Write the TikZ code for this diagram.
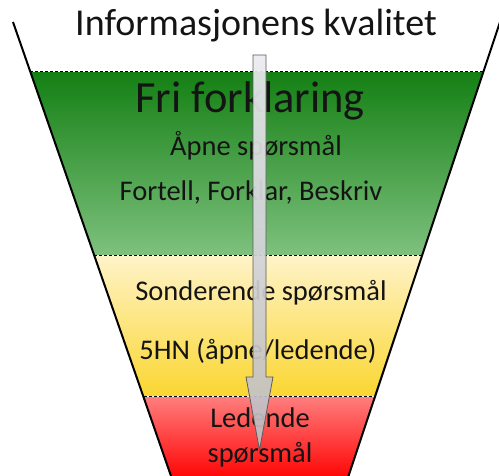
\documentclass[tikz,border=0pt]{standalone}
\usepackage{fontspec}
\setmainfont{Carlito}
\definecolor{greentop}{RGB}{20,128,20}
\definecolor{greenbot}{RGB}{126,193,126}
\definecolor{yellowtop}{RGB}{255,243,200}
\definecolor{yellowbot}{RGB}{250,214,48}
\definecolor{redtop}{RGB}{255,125,125}
\definecolor{redbot}{RGB}{255,8,8}
\definecolor{arrowtop}{RGB}{235,235,240}
\definecolor{arrowbot}{RGB}{188,188,194}
\definecolor{arrowline}{RGB}{90,90,90}
\definecolor{ink}{RGB}{20,20,20}
\begin{document}
\begin{tikzpicture}[x=1pt,y=-1pt,
  lbl/.style={anchor=base,inner sep=0pt,text=ink,font=\fontsize{28.5}{30}\selectfont},
  sep/.style={line width=1pt,draw=black,dash pattern=on 3pt off 2pt},
  sepbg/.style={line width=1pt,draw=white},
  rim/.style={line width=2pt,draw=black}]
\useasboundingbox (0,0) rectangle (499,476);
% funnel rim
\coordinate (TL) at (13,22);
\coordinate (BL) at (171,476);
\coordinate (TR) at (500,22);
\coordinate (BR) at (348.5,476);
% bands
\shade[top color=greentop,bottom color=greenbot]
  (30.4,72) -- (483.3,72) -- (421.9,256) -- (94.4,256) -- cycle;
\shade[top color=yellowtop,bottom color=yellowbot]
  (94.4,256) -- (421.9,256) -- (374.9,397) -- (143.5,397) -- cycle;
\shade[top color=redtop,bottom color=redbot]
  (143.5,397) -- (374.9,397) -- (348.5,476) -- (171,476) -- cycle;
% band separators
\foreach \y/\l/\r in {72/30.4/483.3,256/94.4/421.9,397/143.5/374.9}{
  \draw[sepbg] (\l,\y) -- (\r,\y);
  \draw[sep] (\l,\y) -- (\r,\y);
}
\draw[rim] (TL) -- (BL);
\draw[rim] (TR) -- (BR);
% texts
\node[anchor=base,inner sep=0pt,text=ink,font=\fontsize{38}{40}\selectfont] (title) at (256,36) {Informasjonens kvalitet};
\node[anchor=base,inner sep=0pt,text=ink,font=\fontsize{44.5}{48}\selectfont] (fri) at (250,113) {Fri forklaring};
\node[lbl] (apne) at (256,156) {Åpne spørsmål};
\node[lbl] (fort) at (251,201) {Fortell, Forklar, Beskriv};
\node[lbl] (sond) at (261,301) {Sonderende spørsmål};
\node[lbl] (hn) at (258,360) {5HN (åpne/ledende)};
\node[lbl] (led) at (260,428) {Ledende};
\node[lbl] (sp) at (260,463) {spørsmål};
% downward arrow
\shade[top color=arrowtop,bottom color=arrowbot,opacity=0.92]
  (253,55) -- (266,55) -- (266,377) -- (273,377) -- (259.5,450) -- (246,377) -- (253,377) -- cycle;
\draw[arrowline,line width=0.8pt,line join=miter]
  (253,55) -- (266,55) -- (266,377) -- (273,377) -- (259.5,450) -- (246,377) -- (253,377) -- cycle;
\end{tikzpicture}
\end{document}
